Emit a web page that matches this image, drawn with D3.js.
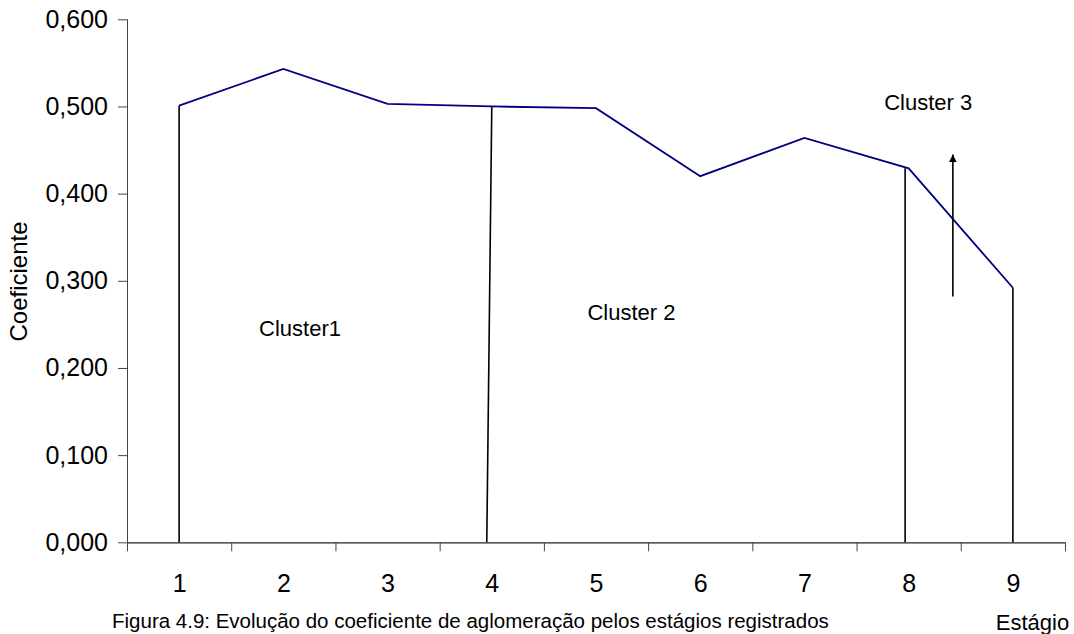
<!DOCTYPE html>
<html>
<head>
<meta charset="utf-8">
<script src="https://cdn.jsdelivr.net/npm/d3@7"></script>
<style>
  html, body { margin: 0; padding: 0; background: #fff; }
  svg { display: block; font-family: "Liberation Sans", Arial, sans-serif; }
</style>
</head>
<body>
<svg id="chart" width="1074" height="634"></svg>
<script>
// ---- data ----
const categories = [1, 2, 3, 4, 5, 6, 7, 8, 9];
const coeficiente = [0.501, 0.543, 0.503, 0.500, 0.498, 0.420, 0.464, 0.429, 0.292];
const yTicks = [0, 0.1, 0.2, 0.3, 0.4, 0.5, 0.6];
// cluster divider lines (data units: stage, coefficient)
const dividerX0 = [1, 3.952, 7.966, 9];
const dividerX1 = [1, 4.0, 7.966, 9];
const dividerTop = [0.501, 0.500, 0.429, 0.292];
// arrow (stage, from, to)
const arrowStage = 8.424, arrowFrom = 0.282, arrowTo = 0.445;
// cluster labels
const clusterNames = ["Cluster1", "Cluster 2", "Cluster 3"];
const clusterStage = [2.16, 5.34, 8.187];
const clusterValue = [0.2366, 0.255, 0.496];
const yTitle = "Coeficiente";
const xTitle = "Estágio";
const caption = "Figura 4.9: Evolução do coeficiente de aglomeração pelos estágios registrados";

// ---- layout ----
const svg = d3.select("#chart");
const mLeft = 127, mRight = 1065, mTop = 19.3, mBottom = 542.3;
const x = d3.scaleLinear().domain([0.5, 9.5]).range([mLeft, mRight]);
const y = d3.scaleLinear().domain([0, 0.6]).range([mBottom, mTop]);
const fmt = v => d3.format(".3f")(v).replace(".", ",");

// y axis
const yAxis = svg.append("g").attr("transform", `translate(${mLeft},0)`)
  .call(d3.axisLeft(y).tickValues(yTicks).tickFormat(fmt).tickSize(9).tickPadding(10));
yAxis.select(".domain").attr("stroke", "#444").attr("d", `M0.5,${mTop}V${mBottom}`);
yAxis.selectAll(".tick line").attr("stroke", "#444");
yAxis.selectAll(".tick text").attr("font-size", 25).attr("fill", "#000")
  .attr("font-family", "Liberation Sans, Arial, sans-serif");

// x axis ticks at band edges
const edges = d3.range(0.5, 10, 1);
const xAxis = svg.append("g").attr("transform", `translate(0,${mBottom})`)
  .call(d3.axisBottom(x).tickValues(edges).tickFormat("").tickSize(9).tickSizeOuter(0));
xAxis.select(".domain").attr("stroke", "#222").attr("stroke-width", 1.3);
xAxis.selectAll(".tick line").attr("stroke", "#444");
// x labels at centres
const xLab = svg.append("g").attr("transform", `translate(0,${mBottom})`)
  .call(d3.axisBottom(x).tickValues(categories).tickFormat(d => d).tickSize(0).tickPadding(32));
xLab.select(".domain").remove();
xLab.selectAll(".tick text").attr("font-size", 25).attr("fill", "#000")
  .attr("font-family", "Liberation Sans, Arial, sans-serif");

// divider lines
svg.append("g").selectAll("line").data(dividerX0).join("line")
  .attr("x1", (d) => x(d)).attr("y1", y(0))
  .attr("x2", (d, i) => x(dividerX1[i])).attr("y2", (d, i) => y(dividerTop[i]))
  .attr("stroke", "#000").attr("stroke-width", 1.6);

// data line
const pts = categories.map((c, i) => [c, coeficiente[i]]);
svg.append("path").datum(pts)
  .attr("fill", "none").attr("stroke", "#000080").attr("stroke-width", 1.8)
  .attr("stroke-linejoin", "miter")
  .attr("d", d3.line().x(d => x(d[0])).y(d => y(d[1])));

// arrow
svg.append("defs").append("marker").attr("id", "ah")
  .attr("viewBox", "0 0 10 10").attr("refX", 10).attr("refY", 5)
  .attr("markerWidth", 5).attr("markerHeight", 5).attr("orient", "auto")
  .append("path").attr("d", "M0,0L10,5L0,10z").attr("fill", "#000");
svg.append("line")
  .attr("x1", x(arrowStage)).attr("y1", y(arrowFrom))
  .attr("x2", x(arrowStage)).attr("y2", y(arrowTo))
  .attr("stroke", "#000").attr("stroke-width", 1.6).attr("marker-end", "url(#ah)");

// cluster labels
svg.append("g").selectAll("text").data(clusterNames).join("text")
  .attr("x", (d, i) => x(clusterStage[i])).attr("y", (d, i) => y(clusterValue[i]))
  .attr("text-anchor", "middle").attr("font-size", 22).attr("fill", "#000")
  .text(d => d);

// titles
svg.append("text").attr("transform", "translate(27,281.5) rotate(-90)")
  .attr("text-anchor", "middle").attr("font-size", 24).attr("fill", "#000").text(yTitle);
svg.append("text").attr("x", 1032.5).attr("y", 630)
  .attr("text-anchor", "middle").attr("font-size", 22).attr("fill", "#000").text(xTitle);
svg.append("text").attr("x", 112).attr("y", 628)
  .attr("font-size", 20.5).attr("fill", "#000").text(caption);
</script>
</body>
</html>
